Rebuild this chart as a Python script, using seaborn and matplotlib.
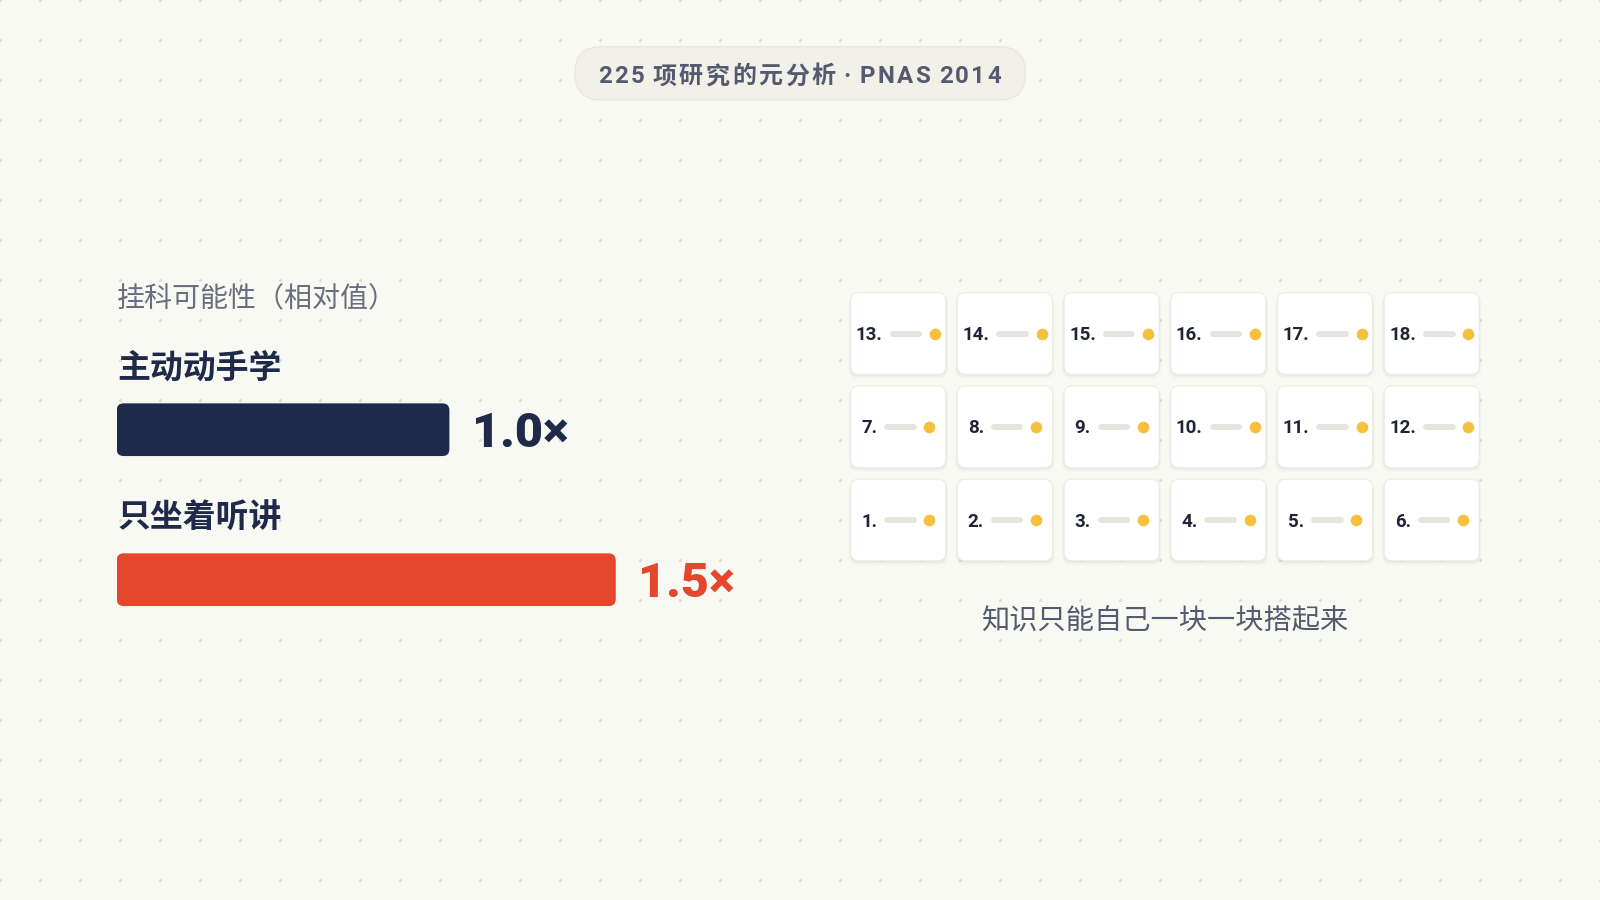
import numpy as np
import pandas as pd
import matplotlib.pyplot as plt
import seaborn as sns
from matplotlib.patches import FancyBboxPatch

# chart data
methods = ['主动动手学', '只坐着听讲']
fail_ratio = [1.0, 1.5]
ratio_labels = ['1.0×', '1.5×']
bar_colors = ['#1f2a4a', '#e4472c']

block_numbers = [1, 2, 3, 4, 5, 6, 7, 8, 9, 10, 11, 12, 13, 14, 15, 16, 17, 18]
blocks_per_row = 6

badge_text = '225 项研究的元分析 · PNAS 2014'
subtitle = '挂科可能性（相对值）'
caption = '知识只能自己一块一块搭起来'

W, H = 1600, 900
BG = '#f9f9f4'
NAVY = '#1f2a4a'
SLATE = '#555a6e'

sns.set_theme(style='white')
plt.rcParams['font.family'] = ['Noto Sans CJK SC', 'DejaVu Sans']
NUM_FONT = ['Roboto', 'Noto Sans CJK SC', 'DejaVu Sans']


def fig_rect(x0, y0, x1, y1):
    # pixel box (top-left origin) -> figure fraction rect
    return [x0 / W, 1 - y1 / H, (x1 - x0) / W, (y1 - y0) / H]


def tracked_text(ax, xc, y, s, track, **kw):
    # letter-spaced text centred on xc (ax must be in pixel units)
    r = fig.canvas.get_renderer()
    items = []
    for ch in s:
        t = ax.text(0, y, ch, ha='left', va='baseline', **kw)
        w = t.get_window_extent(r).width if ch.strip() else kw['fontsize'] / 0.72 * 0.14
        items.append((t, w))
    total = sum(w for _, w in items) + track * (len(items) - 1)
    x = xc - total / 2
    for t, w in items:
        t.set_x(x)
        x += w + track


fig = plt.figure(figsize=(16, 9), dpi=100, facecolor=BG)

# background layer in pixel coordinates
ax_bg = fig.add_axes([0, 0, 1, 1])
ax_bg.set_xlim(0, W)
ax_bg.set_ylim(H, 0)
ax_bg.set_facecolor(BG)
ax_bg.axis('off')
gx, gy = np.meshgrid(np.arange(0, W + 1, 40), np.arange(0, H + 1, 40))
ax_bg.scatter(gx.ravel(), gy.ravel(), s=4.5, color='#dcdad2', linewidths=0, zorder=0)

# badge on top
ax_bg.add_patch(FancyBboxPatch((575, 46.7), 450.5, 53.3,
                               boxstyle='round,pad=0,rounding_size=26.6',
                               facecolor='#f1f0e9', edgecolor='#e9e8e0', lw=1, zorder=2))
tracked_text(ax_bg, 799.5, 83.3, badge_text, 2.5, fontsize=17.3, fontweight='bold',
             color=SLATE, family=NUM_FONT, zorder=3)

ax_bg.text(117, 306, subtitle, ha='left', va='baseline', fontsize=20.2,
           color='#6b6e7e', zorder=3)
ax_bg.text(1165, 629.5, caption, ha='center', va='baseline', fontsize=20.3,
           color=SLATE, zorder=3)

# ---- bar chart ----
unit_px = 332.7   # pixels per 1.0x
row_px = 150.0
ax_bar = fig.add_axes(fig_rect(116.7, 429.7 - row_px / 2, 116.7 + 2 * unit_px, 579.7 + row_px / 2))
df = pd.DataFrame({'method': methods, 'ratio': fail_ratio})
sns.barplot(data=df, x='ratio', y='method', hue='method', palette=bar_colors,
            orient='h', width=52.7 / row_px, saturation=1, legend=False, ax=ax_bar)
ax_bar.set_xlim(0, 2)
ax_bar.set_ylim(1.5, -0.5)
ax_bar.axis('off')
ax_bar.patch.set_alpha(0)

aspect = unit_px / row_px
for p in list(ax_bar.patches):
    x, y, w, h = p.get_x(), p.get_y(), p.get_width(), p.get_height()
    fc = p.get_facecolor()
    p.remove()
    ax_bar.add_patch(FancyBboxPatch((x, y), w, h,
                                    boxstyle='round,pad=0,rounding_size=%f' % (7 / unit_px),
                                    mutation_aspect=aspect, facecolor=fc, edgecolor='none'))

for i, (m, v, lab, c) in enumerate(zip(methods, fail_ratio, ratio_labels, bar_colors)):
    ax_bar.text(0.002, i - 52 / row_px, m, ha='left', va='baseline', fontsize=23.7,
                fontweight='bold', color=NAVY, clip_on=False)
    ax_bar.text(v + 22.4 / unit_px, i + 17.6 / row_px, lab, ha='left', va='baseline',
                fontsize=35, fontweight='black', color=c, family=NUM_FONT, clip_on=False)

# ---- block grid ----
col_px, rowg_px = 106.7, 93.25
cx0, cy0 = 898.2, 520.0   # centre of block 1
ax_card = fig.add_axes(fig_rect(cx0 - col_px / 2, cy0 - 2.5 * rowg_px,
                                cx0 + 5.5 * col_px, cy0 + rowg_px / 2))
ax_card.set_xlim(-0.5, 5.5)
ax_card.set_ylim(-0.5, 2.5)
ax_card.axis('off')
ax_card.patch.set_alpha(0)

blocks = pd.DataFrame({'n': block_numbers})
blocks['col'] = (blocks['n'] - 1) % blocks_per_row
blocks['row'] = (blocks['n'] - 1) // blocks_per_row

cw, ch = 95 / col_px, 81.7 / rowg_px
asp = col_px / rowg_px
renderer = fig.canvas.get_renderer()
for _, b in blocks.iterrows():
    c, r = b['col'], b['row']
    # soft shadow
    for k, a in [(4, 0.025), (2, 0.035)]:
        ax_card.add_patch(FancyBboxPatch((c - cw / 2 - k / col_px / 2, r - ch / 2 - k / rowg_px),
                                         cw + k / col_px, ch + k / rowg_px / 2,
                                         boxstyle='round,pad=0,rounding_size=%f' % (9 / col_px),
                                         mutation_aspect=asp, facecolor='#000000',
                                         edgecolor='none', alpha=a, zorder=1))
    ax_card.add_patch(FancyBboxPatch((c - cw / 2, r - ch / 2), cw, ch,
                                     boxstyle='round,pad=0,rounding_size=%f' % (8 / col_px),
                                     mutation_aspect=asp, facecolor='white',
                                     edgecolor='#ecebe4', lw=0.8, zorder=2))
    t = ax_card.text(c, r - 6.65 / rowg_px, '%d.' % b['n'], ha='left', va='baseline',
                     fontsize=13.5, fontweight='bold', color='#1e2336',
                     family=NUM_FONT, zorder=4)
    lw_px = t.get_window_extent(renderer).width
    total = lw_px + 7 + 32.5 + 12.8 + 5.8
    left = -total / 2
    t.set_x(c + left / col_px)
    l0 = left + lw_px + 7 + 3
    l1 = left + lw_px + 7 + 32.5 - 3
    ax_card.plot([c + l0 / col_px, c + l1 / col_px], [r, r], lw=4.3,
                 color='#e6e5dd', solid_capstyle='round', zorder=3)
    dx = left + lw_px + 7 + 32.5 + 12.8
    ax_card.scatter([c + dx / col_px], [r], s=70, color='#f6c03a', linewidths=0, zorder=4)

fig.savefig('out.png', dpi=100, facecolor=BG)
